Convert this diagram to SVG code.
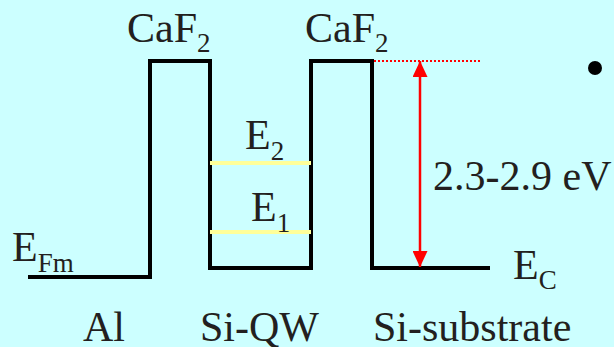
<svg xmlns="http://www.w3.org/2000/svg" width="614" height="347" viewBox="0 0 614 347">
<style>
text{font-family:"Liberation Serif","Times New Roman",serif;fill:#231f20;font-size:42px}
.sub{font-size:27px}
.band{fill:none;stroke:#000;stroke-width:4}
.lvl{stroke:#ffff99;stroke-width:4}
</style>
<defs>
<marker id="ah" viewBox="0 0 16 15" refX="16" refY="7.5" markerWidth="16" markerHeight="15" orient="auto-start-reverse" markerUnits="userSpaceOnUse">
<path d="M0,0 L16,7.5 L0,15 z" fill="#ff0000"/>
</marker>
</defs>
<rect width="614" height="347" fill="#ccffff"/>
<g id="band">
<path class="band" d="M28,277 H150 V61 H210 V268 H311 V61 H372 V268 H490"/>
</g>
<g id="levels">
<line class="lvl" x1="210" y1="163" x2="311" y2="163"/>
<line class="lvl" x1="210" y1="232" x2="311" y2="232"/>
</g>
<g id="connectors">
<line x1="374" y1="61" x2="482" y2="61" stroke="#ff0000" stroke-width="2" stroke-dasharray="2,2"/>
<line x1="420" y1="61" x2="420" y2="267" stroke="#ff0000" stroke-width="2.5" marker-start="url(#ah)" marker-end="url(#ah)"/>
</g>
<g id="labels">
<text x="127" y="42">CaF<tspan class="sub" dy="10">2</tspan></text>
<text x="305" y="42">CaF<tspan class="sub" dy="10">2</tspan></text>
<text x="245" y="149">E<tspan class="sub" dy="11">2</tspan></text>
<text x="251" y="221">E<tspan class="sub" dy="11">1</tspan></text>
<text x="433" y="190">2.3-2.9 eV</text>
<text x="12" y="261">E<tspan class="sub" dy="11">Fm</tspan></text>
<text x="513" y="279">E<tspan class="sub" dy="10">C</tspan></text>
<text x="83" y="341">Al</text>
<text x="200" y="341">Si-QW</text>
<text x="373" y="341">Si-substrate</text>
</g>
<circle id="bullet" cx="595" cy="68" r="7" fill="#000"/>
</svg>
